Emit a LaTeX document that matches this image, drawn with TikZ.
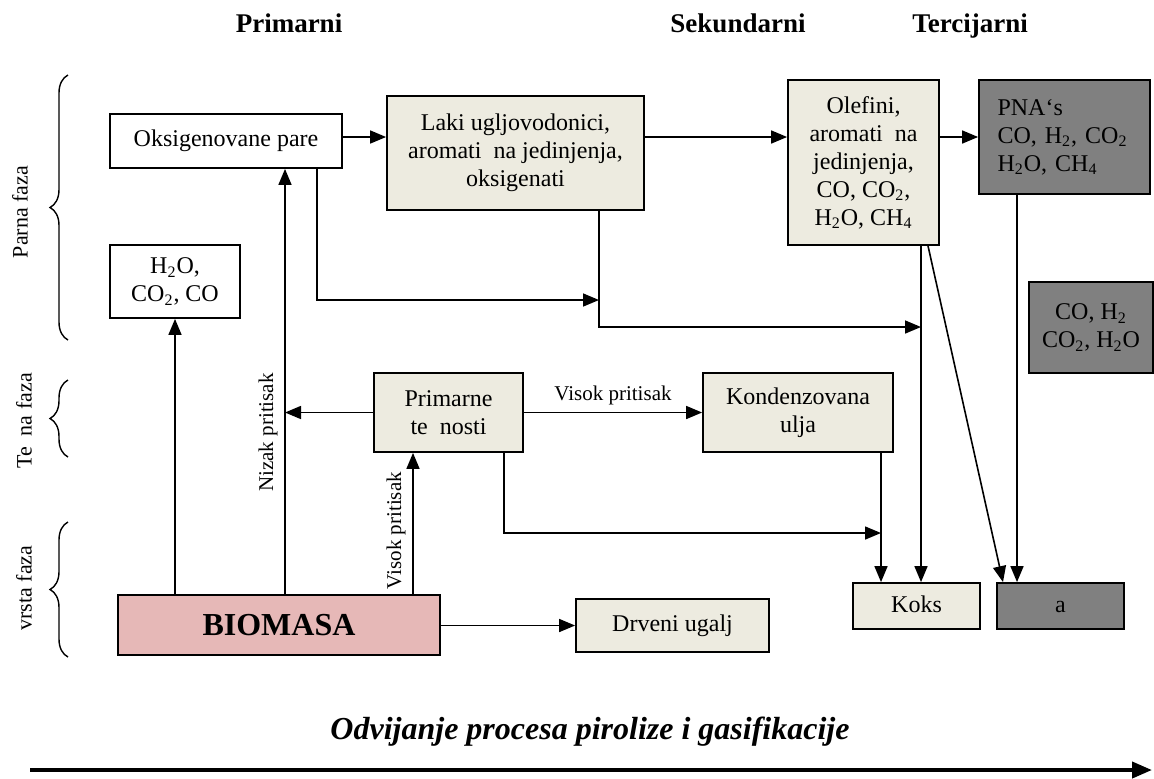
\documentclass[tikz,border=0pt]{standalone}
\usepackage{fontspec}
\setmainfont{Liberation Serif}
\usetikzlibrary{arrows.meta}
\usetikzlibrary{decorations.pathreplacing}

\definecolor{bez}{RGB}{237,235,224}
\definecolor{roza}{RGB}{230,184,183}
\definecolor{siva}{RGB}{128,128,128}

\tikzset{
	kutija/.style={draw=black, line width=0.9pt, align=center, inner sep=2pt, font=\fontsize{12}{14}\selectfont},
	strelica/.style={line width=0.8pt, -{Triangle[length=8pt,width=6.5pt]}},
	zagrada/.style={decorate, decoration={brace, amplitude=9pt}, line width=0.7pt},
	oznaka/.style={font=\fontsize{10.5}{12}\selectfont},
	naslov/.style={font=\fontsize{13.5}{16}\selectfont\bfseries, anchor=base},
	faza/.style={rotate=90, font=\fontsize{11}{13}\selectfont}
}

\begin{document}
\begin{tikzpicture}[x=0.5pt, y=-0.5pt]
		\useasboundingbox (0,0) rectangle (1154,778);
		
		% naslovi kolona
		\node[naslov] (tprim) at (289,32) {Primarni};
		\node[naslov] (tsek) at (738,32) {Sekundarni};
		\node[naslov] (tter) at (970,32) {Tercijarni};
		
		% faze
		\draw[zagrada] (68,340) -- (68,75);
		\draw[zagrada] (68,457) -- (68,380);
		\draw[zagrada] (68,657) -- (68,522);
		\node[faza] (fparna) at (20,212) {Parna faza};
		\node[faza] (ftecna) at (24,421) {Te\ \ na faza};
		\node[faza] (fcvrsta) at (24,588) {vrsta faza};
		
		% kutije
		\node[kutija, minimum width=116pt, minimum height=27pt] (oks) at (226,141) {Oksigenovane pare};
		\node[kutija, minimum width=65pt, minimum height=36.5pt] (h2o) at (175,281.5) {H\textsubscript{2}O,\\CO\textsubscript{2}, CO};
		\node[kutija, fill=bez, minimum width=128.5pt, minimum height=57pt] (laki) at (515.5,153) {Laki ugljovodonici,\\aromati\ \ na jedinjenja,\\oksigenati};
		\node[kutija, fill=bez, minimum width=75.5pt, minimum height=82.5pt] (olef) at (863.5,162.5) {Olefini,\\aromati\ \ na\\jedinjenja,\\CO, CO\textsubscript{2},\\H\textsubscript{2}O, CH\textsubscript{4}};
		\node[kutija, fill=siva, minimum width=85.5pt, minimum height=57pt, text width=67pt, align=left] (pna) at (1064.5,137) {PNA{\char"60}s\\CO, H\textsubscript{2}, CO\textsubscript{2}\\H\textsubscript{2}O, CH\textsubscript{4}};
		\node[kutija, fill=siva, minimum width=62pt, minimum height=45.5pt] (gas) at (1091,327.5) {CO, H\textsubscript{2}\\CO\textsubscript{2}, H\textsubscript{2}O};
		\node[kutija, fill=bez, minimum width=74.5pt, minimum height=39.5pt] (prim) at (448.5,412.5) {Primarne\\te\ \ nosti};
		\node[kutija, fill=bez, minimum width=95pt, minimum height=39.5pt] (kond) at (798,412.5) {Kondenzovana\\ulja};
		\node[kutija, fill=roza, minimum width=161pt, minimum height=30pt, font=\fontsize{16}{19}\selectfont\bfseries] (bio) at (279,625) {BIOMASA};
		\node[kutija, fill=bez, minimum width=96.5pt, minimum height=26.5pt] (drv) at (672.5,625.5) {Drveni ugalj};
		\node[kutija, fill=bez, minimum width=63.5pt, minimum height=23pt, text height=8.5pt, text depth=2.5pt] (koks) at (916.5,606) {Koks};
		\node[kutija, fill=siva, minimum width=63.5pt, minimum height=23pt, text height=8.5pt, text depth=2.5pt] (a) at (1060.5,606) {a};
		
		% pomocne tacke
		\coordinate (nz) at (285,0);
		\coordinate (vp) at (413,0);
		\coordinate (k1) at (881,0);
		\coordinate (k2) at (921,0);
		\coordinate (ok) at (317,0);
		\coordinate (lk) at (599,0);
		\coordinate (pr) at (504,0);
		\coordinate (pn) at (1017,0);
		\coordinate (od) at (928,0);
		\coordinate (ad) at (1003,0);
		
		% veze
		\draw[strelica] (oks.east |- pna.west) -- (laki.west |- pna.west);
		\draw[strelica] (laki.east |- pna.west) -- (olef.west |- pna.west);
		\draw[strelica] (olef.east |- pna.west) -- (pna.west);
		
		\draw[strelica] (bio.north -| h2o.south) -- (h2o.south);
		\draw[strelica] (bio.north -| nz) -- (oks.south -| nz) node[pos=0.38, above, rotate=90, oznaka] {Nizak pritisak};
		\draw[strelica] (bio.north -| vp) -- (prim.south -| vp) node[pos=0.45, above, rotate=90, oznaka] {Visok pritisak};
		\draw[strelica] (prim.west) -- (prim.west -| nz);
		\draw[strelica] (prim.east) -- (kond.west) node[midway, above, oznaka] {Visok pritisak};
		\draw[strelica] (bio.east |- drv.west) -- (drv.west);
		
		\draw[strelica] (oks.south -| ok) |- ([yshift=-300*0.5pt]lk);
		\draw[strelica] (laki.south -| lk) |- ([yshift=-327*0.5pt]k2);
		\draw[strelica] (prim.south -| pr) |- ([yshift=-533*0.5pt]k1);
		
		\draw[strelica] (kond.south -| k1) -- (koks.north -| k1);
		\draw[strelica] (olef.south -| k2) -- (koks.north -| k2);
		\draw[strelica] (olef.south -| od) -- (a.north -| ad);
		\draw[strelica] (pna.south -| pn) -- (a.north -| pn);
		
		% tok procesa
		\node[naslov, font=\fontsize{16}{19}\selectfont\bfseries\itshape] (tok) at (590,739) {Odvijanje procesa pirolize i gasifikacije};
		\coordinate (t1) at (30,770);
		\coordinate (t2) at (1152,770);
		\draw[line width=2pt, -{Triangle[length=10pt,width=8pt]}] (t1) -- (t2);
	\end{tikzpicture}
\end{document}
